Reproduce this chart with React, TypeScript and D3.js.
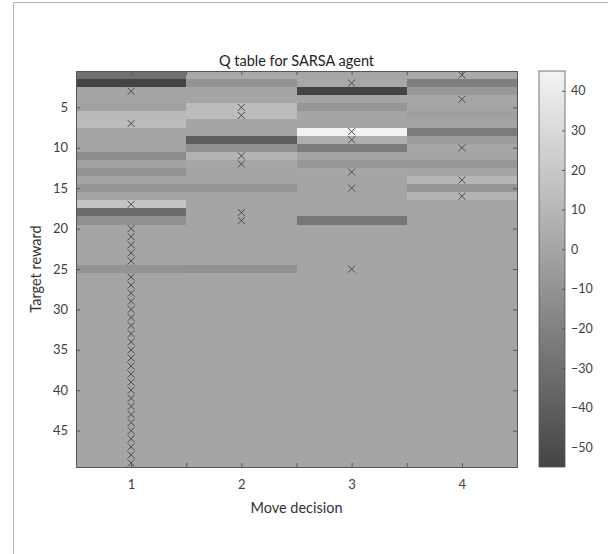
import React, {useEffect, useRef} from 'react';
import * as d3 from 'd3';

// Q values per target reward (rows 1..49), one array per move decision
const moves = [1, 2, 3, 4];
const rewards = d3.range(1, 50);

const qMove1 = [-30, -55, 0, 0, -2, 12, 13, 0, 0, 0, -14, -2, -10, 0, -9, 0, 18, -33, -12, 0,
    0, 0, 0, 0, -10, 0, 0, 0, 0, 0, 0, 0, 0, 0, 0, 0, 0, 0, 0, 0,
    0, 0, 0, 0, 0, 0, 0, 0, 0];
const qMove2 = [2, -10, 0, 0, 13, 13, 0, 0, -40, -11, 8, 1, 0, 0, -9, 0, 0, 0, 0, 0,
    0, 0, 0, 0, -11, 0, 0, 0, 0, 0, 0, 0, 0, 0, 0, 0, 0, 0, 0, 0,
    0, 0, 0, 0, 0, 0, 0, 0, 0];
const qMove3 = [0, 1, -55, 0, -9, 0, 0, 44, 6, -24, 0, -7, 1, 0, 0, 0, 0, 0, -26, 0,
    0, 0, 0, 0, 0, 0, 0, 0, 0, 0, 0, 0, 0, 0, 0, 0, 0, 0, 0, 0,
    0, 0, 0, 0, 0, 0, 0, 0, 0];
const qMove4 = [3, -21, -7, 1, 0, -3, 0, -24, -5, 1, 0, -7, 0, 10, -9, 8, 0, 0, 0, 0,
    0, 0, 0, 0, 0, 0, 0, 0, 0, 0, 0, 0, 0, 0, 0, 0, 0, 0, 0, 0,
    0, 0, 0, 0, 0, 0, 0, 0, 0];

// greedy move chosen per row (x markers)
const greedyMove = [4, 3, 1, 4, 2, 2, 1, 3, 3, 4, 2, 2, 3, 4, 3, 4, 1, 2, 2, 1,
    1, 1, 1, 1, 3, 1, 1, 1, 1, 1, 1, 1, 1, 1, 1, 1, 1, 1, 1, 1,
    1, 1, 1, 1, 1, 1, 1, 1, 1];

const yTicks = [5, 10, 15, 20, 25, 30, 35, 40, 45];
const cbTicks = [-50, -40, -30, -20, -10, 0, 10, 20, 30, 40];

const W = 608, H = 554;
const L = 76, R = 517, T = 71, B = 467;
const font = 'Lato, "Open Sans", sans-serif';
const axisColor = '#555';
const textColor = '#404040';

const QTableChart: React.FC = () => {
    const ref = useRef<SVGSVGElement>(null);
    useEffect(() => {
        const svg = d3.select(ref.current);
        svg.selectAll('*').remove();

        const table = [qMove1, qMove2, qMove3, qMove4];
        const cells = moves.flatMap((m, i) => rewards.map((r, j) => ({move: m, reward: r, q: table[i][j]})));

        const x = d3.scaleLinear().domain([0.5, 4.5]).range([L, R]);
        const y = d3.scaleLinear().domain([0.5, 49.5]).range([T, B]);
        const color = d3.scaleLinear<string>().domain([-55, 45]).range(['#444444', '#f4f4f4']);

        // figure frame
        svg.append('path').attr('d', `M13.5,${H}V2.5H${W}`).attr('fill', 'none').attr('stroke', '#b4b4b4');

        // background = colour of the first cell so no seams show between cells
        svg.append('rect').attr('x', L).attr('y', T).attr('width', R - L).attr('height', B - T)
            .attr('fill', color(0));

        svg.append('g').attr('shape-rendering', 'crispEdges').selectAll('rect')
            .data(cells)
            .enter()
            .append('rect')
            .attr('x', (d) => Math.round(x(d.move - 0.5)))
            .attr('y', (d) => Math.round(y(d.reward - 0.5)))
            .attr('width', (d) => Math.round(x(d.move + 0.5)) - Math.round(x(d.move - 0.5)))
            .attr('height', (d) => Math.round(y(d.reward + 0.5)) - Math.round(y(d.reward - 0.5)))
            .attr('fill', (d) => color(d.q));

        // x markers
        const s = 3.5;
        svg.append('g').selectAll('path')
            .data(greedyMove.map((m, i) => ({move: m, reward: rewards[i]})))
            .enter()
            .append('path')
            .attr('d', (d) => {
                const cx = x(d.move), cy = y(d.reward);
                return `M${cx - s},${cy - s}L${cx + s},${cy + s}M${cx - s},${cy + s}L${cx + s},${cy - s}`;
            })
            .attr('stroke', '#4a4a4a')
            .attr('stroke-width', 1)
            .attr('fill', 'none');

        const xTickVals = d3.range(1, 4.01, 0.5);
        const fmtX = (d: d3.NumberValue) => (Number.isInteger(+d) ? String(d) : '');

        const gB = svg.append('g').attr('transform', `translate(0,${B})`)
            .call(d3.axisBottom(x).tickValues(xTickVals).tickFormat(fmtX).tickSize(-4).tickPadding(13));
        const gT = svg.append('g').attr('transform', `translate(0,${T})`)
            .call(d3.axisTop(x).tickValues(xTickVals).tickFormat(() => '').tickSize(-4));
        const gL = svg.append('g').attr('transform', `translate(${L},0)`)
            .call(d3.axisLeft(y).tickValues(yTicks).tickSize(-4).tickPadding(8));
        const gR = svg.append('g').attr('transform', `translate(${R},0)`)
            .call(d3.axisRight(y).tickValues(yTicks).tickFormat(() => '').tickSize(-4));

        [gB, gT, gL, gR].forEach((g) => {
            g.select('.domain').attr('stroke', axisColor);
            g.selectAll('.tick line').attr('stroke', axisColor);
            g.selectAll('.tick text').attr('fill', textColor).attr('font-family', font).attr('font-size', 13);
        });

        // colorbar
        const cy = d3.scaleLinear().domain([-55, 45]).range([B, T]);
        const defs = svg.append('defs');
        const grad = defs.append('linearGradient').attr('id', 'cbgrad')
            .attr('x1', 0).attr('y1', 1).attr('x2', 0).attr('y2', 0);
        grad.append('stop').attr('offset', '0%').attr('stop-color', color(-55));
        grad.append('stop').attr('offset', '100%').attr('stop-color', color(45));
        svg.append('rect').attr('x', 539).attr('y', T).attr('width', 26).attr('height', B - T)
            .attr('fill', 'url(#cbgrad)').attr('stroke', axisColor).attr('stroke-width', 0.8);
        const gC = svg.append('g').attr('transform', 'translate(565,0)')
            .call(d3.axisRight(cy).tickValues(cbTicks).tickSize(-3).tickPadding(6));
        gC.select('.domain').remove();
        gC.selectAll('.tick line').attr('stroke', axisColor);
        gC.selectAll('.tick text').attr('fill', textColor).attr('font-family', font).attr('font-size', 12.5);

        svg.append('text').attr('x', (L + R) / 2).attr('y', 66).attr('text-anchor', 'middle')
            .attr('font-family', font).attr('font-size', 14.5).attr('fill', '#222')
            .text('Q table for SARSA agent');
        svg.append('text').attr('x', (L + R) / 2).attr('y', 513).attr('text-anchor', 'middle')
            .attr('font-family', font).attr('font-size', 14.5).attr('fill', '#333')
            .text('Move decision');
        svg.append('text').attr('transform', `translate(41,${(T + B) / 2}) rotate(-90)`)
            .attr('text-anchor', 'middle')
            .attr('font-family', font).attr('font-size', 14.5).attr('fill', '#333')
            .text('Target reward');
    }, []);

    return <svg ref={ref} width={W} height={H} style={{position: 'absolute', left: 0, top: 0, background: '#fff'}} />;
};

export default function App() {
    return <QTableChart />;
}
